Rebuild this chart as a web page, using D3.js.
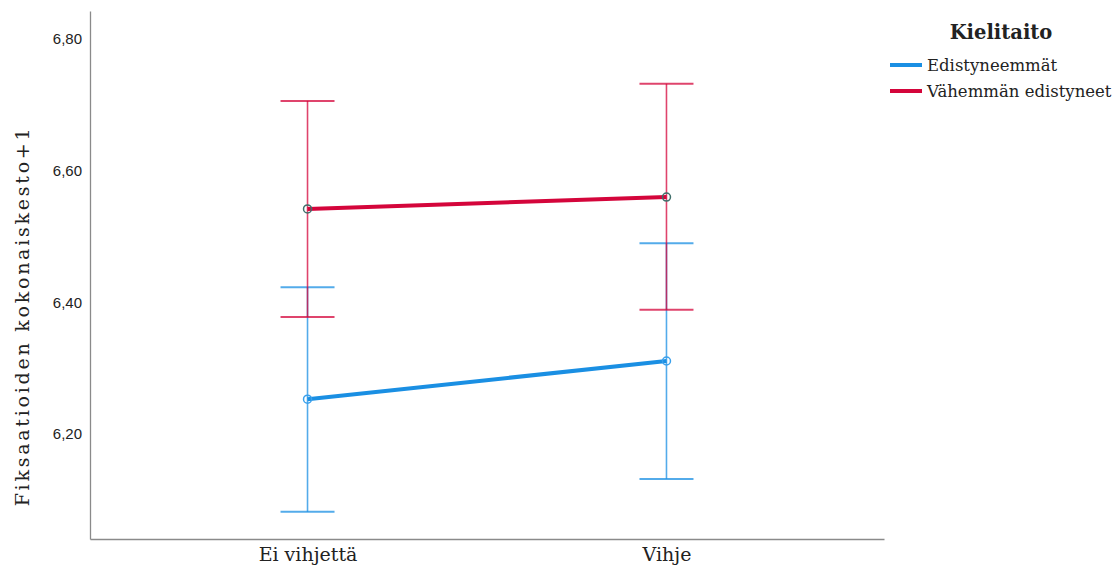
<!DOCTYPE html>
<html>
<head>
<meta charset="utf-8">
<script src="https://cdn.jsdelivr.net/npm/d3@7"></script>
<style>
  body { margin: 0; background: #fff; }
  svg { display: block; }
</style>
</head>
<body>
<div id="chart"></div>
<script>
// categories and series
var categories = ['Ei vihjettä', 'Vihje']
var seriesNames = ['Edistyneemmät', 'Vähemmän edistyneet']
var seriesColors = ['#1a8fe3', '#d4053b']
var markerColors = ['#3aa0ec', '#3f6e6a']
var means = [[6.253, 6.311], [6.542, 6.560]]
var lower = [[6.082, 6.132], [6.378, 6.389]]
var upper = [[6.423, 6.490], [6.706, 6.732]]
var yTicks = [6.2, 6.4, 6.6, 6.8]

var width = 1116, height = 572
var margin = {left: 90, right: 232, top: 11, bottom: 33}

var svg = d3.select('#chart').append('svg')
  .attr('width', width)
  .attr('height', height)

var xMap = d3.scalePoint()
  .domain(categories)
  .range([margin.left, width - margin.right])
  .padding(0.606)

var yMap = d3.scaleLinear()
  .domain([6.0407, 6.8425])
  .range([height - margin.bottom, margin.top])

var fmt = d => d3.format('.2f')(d).replace('.', ',')

// axes
var gY = svg.append('g')
  .attr('transform', 'translate(' + [margin.left, 0] + ')')
  .call(d3.axisLeft(yMap).tickValues(yTicks).tickFormat(fmt).tickSize(0).tickSizeOuter(0).tickPadding(8))
gY.select('.domain').attr('stroke', '#8a8a8a').attr('stroke-width', 1.3)
gY.selectAll('text')
  .style('font-family', '"Liberation Sans", Arial, sans-serif')
  .style('font-size', '15px')
  .style('fill', '#222')

var gX = svg.append('g')
  .attr('transform', 'translate(' + [0, height - margin.bottom] + ')')
  .call(d3.axisBottom(xMap).tickSize(0).tickSizeOuter(0).tickPadding(9))
gX.select('.domain').attr('stroke', '#8a8a8a').attr('stroke-width', 1.3)
gX.selectAll('text')
  .style('font-family', '"DejaVu Serif", "Liberation Serif", serif')
  .style('font-size', '19px')
  .style('fill', '#222')

svg.append('text')
  .attr('transform', 'translate(' + [29, 316] + ') rotate(-90)')
  .style('text-anchor', 'middle')
  .style('font-family', '"DejaVu Serif", "Liberation Serif", serif')
  .style('font-size', '19px')
  .style('letter-spacing', '2.75px')
  .style('fill', '#222')
  .text('Fiksaatioiden kokonaiskesto+1')

// error bars
var capHalf = 27
seriesNames.forEach(function(name, s) {
  var g = svg.append('g')
  var rows = categories.map((c, i) => ({c: c, m: means[s][i], lo: lower[s][i], hi: upper[s][i]}))

  g.selectAll('.stem').data(rows).enter().append('line')
    .attr('x1', d => xMap(d.c)).attr('x2', d => xMap(d.c))
    .attr('y1', d => yMap(d.lo)).attr('y2', d => yMap(d.hi))
    .style('stroke', seriesColors[s])
    .style('stroke-opacity', 0.75)
    .style('stroke-width', 1.6)

  ;['lo', 'hi'].forEach(function(k) {
    g.selectAll('.cap-' + k).data(rows).enter().append('line')
      .attr('x1', d => xMap(d.c) - capHalf).attr('x2', d => xMap(d.c) + capHalf)
      .attr('y1', d => yMap(d[k])).attr('y2', d => yMap(d[k]))
      .style('stroke', seriesColors[s])
      .style('stroke-opacity', 0.75)
      .style('stroke-width', 2)
  })
})

// mean lines
seriesNames.forEach(function(name, s) {
  var rows = categories.map((c, i) => ({c: c, m: means[s][i]}))
  var line = d3.line().x(d => xMap(d.c)).y(d => yMap(d.m))
  svg.append('path')
    .datum(rows)
    .attr('d', line)
    .style('fill', 'none')
    .style('stroke', seriesColors[s])
    .style('stroke-width', 4)

  svg.append('g').selectAll('circle').data(rows).enter().append('circle')
    .attr('cx', d => xMap(d.c))
    .attr('cy', d => yMap(d.m))
    .attr('r', 4)
    .style('fill', 'none')
    .style('stroke', markerColors[s])
    .style('stroke-width', 1.5)
})

// legend
var gL = svg.append('g').attr('transform', 'translate(' + [890, 0] + ')')
gL.append('text')
  .attr('x', 111).attr('y', 39)
  .style('text-anchor', 'middle')
  .style('font-family', '"DejaVu Serif", "Liberation Serif", serif')
  .style('font-weight', 'bold')
  .style('font-size', '19.5px')
  .style('fill', '#222')
  .text('Kielitaito')

var gItem = gL.selectAll('.item').data(seriesNames).enter().append('g')
  .attr('transform', (d, i) => 'translate(' + [0, 65 + i * 26] + ')')
gItem.append('line')
  .attr('x1', 0).attr('x2', 32)
  .style('stroke', (d, i) => seriesColors[i])
  .style('stroke-width', 4)
gItem.append('text')
  .attr('x', 37).attr('y', 6)
  .style('font-family', '"DejaVu Serif", "Liberation Serif", serif')
  .style('font-size', '16.5px')
  .style('fill', '#222')
  .text(d => d)
</script>
</body>
</html>
